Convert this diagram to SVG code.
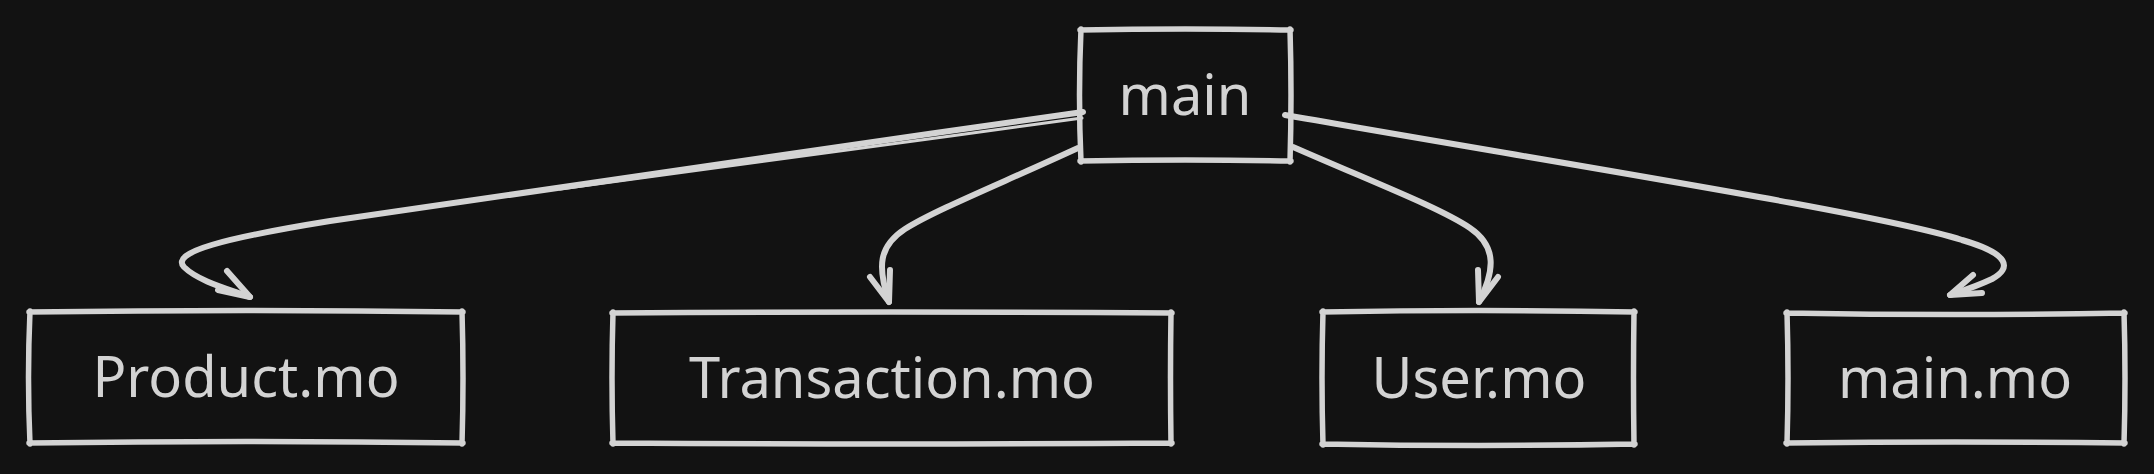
<svg xmlns="http://www.w3.org/2000/svg" width="2154" height="474" viewBox="0 0 2154 474">
<style>
.box{fill:none;stroke:#d3d3d3;stroke-width:5.5;stroke-linecap:round;stroke-linejoin:round}
.lbl{font-family:"Noto Sans","Open Sans",sans-serif;font-size:56px;fill:#d3d3d3;text-anchor:middle}
.edge{fill:none;stroke:#d3d3d3;stroke-width:6;stroke-linecap:round;stroke-linejoin:round}
.edge2{fill:none;stroke:#d3d3d3;stroke-width:3;stroke-linecap:round}
</style>
<rect x="0" y="0" width="2154" height="474" fill="#121212"/>
<g id="connectors">
  <g id="e-main-product">
    <path class="edge" d="M1083,112 C800,152 480,198 330,221 C225,238 170,252 184,267 C198,281 228,289 250,297"/>
    <path class="edge2" d="M1082,118 C900,143 700,170 560,189"/>
    <polyline class="edge" points="227,271 250,297 218,290"/>
  </g>
  <g id="e-main-transaction">
    <path class="edge" d="M1078,148 C1000,184 935,210 905,229 C879,246 877,266 889,302"/>
    <polyline class="edge" points="870,277 889,302 890,270"/>
  </g>
  <g id="e-main-user">
    <path class="edge" d="M1293,147 C1380,185 1440,208 1470,228 C1498,247 1494,272 1479,302"/>
    <polyline class="edge" points="1478,270 1479,302 1498,277"/>
  </g>
  <g id="e-main-mainmo">
    <path class="edge" d="M1285,115 C1600,170 1880,214 1962,240 C2010,254 2012,268 1992,279 C1975,287 1962,291 1950,295"/>
    <polyline class="edge" points="1973,275 1950,295 1982,293"/>
  </g>
</g>
<g id="node-main">
  <path class="box" d="M1080,30 Q1185,28 1291,30 M1290,29 Q1292,95 1290,162 M1291,161 Q1185,159 1080,161 M1081,162 Q1078,95 1081,29"/>
  <text class="lbl" x="1185" y="115">main</text>
</g>
<g id="node-product">
  <path class="box" d="M29,312 Q246,309 463,312 M462,311 Q464,378 462,444 M463,443 Q246,440 29,443 M30,444 Q27,378 30,311"/>
  <text class="lbl" x="246" y="397">Product.mo</text>
</g>
<g id="node-transaction">
  <path class="box" d="M612,313 Q892,311 1172,313 M1171,312 Q1170,378 1171,444 M1172,443 Q892,445 612,443 M613,444 Q611,378 613,312"/>
  <text class="lbl" x="892" y="398">Transaction.mo</text>
</g>
<g id="node-user">
  <path class="box" d="M1322,312 Q1479,309 1635,312 M1634,311 Q1633,378 1634,445 M1635,444 Q1479,447 1322,444 M1323,445 Q1321,378 1323,311"/>
  <text class="lbl" x="1479" y="398">User.mo</text>
</g>
<g id="node-mainmo">
  <path class="box" d="M1786,313 Q1955,316 2125,313 M2124,312 Q2126,378 2124,444 M2125,443 Q1955,441 1786,443 M1787,444 Q1789,378 1787,312"/>
  <text class="lbl" x="1955" y="398">main.mo</text>
</g>
</svg>
